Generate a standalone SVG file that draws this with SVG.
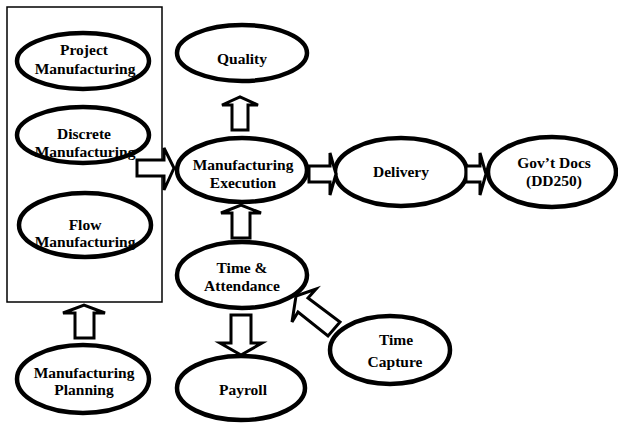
<svg xmlns="http://www.w3.org/2000/svg" width="618" height="423" viewBox="0 0 618 423">
<style>
.n ellipse{fill:#fff;stroke:#000;stroke-width:4.5}
.n text, text{font-family:"Liberation Serif","Times New Roman",serif;font-weight:bold;font-size:15.5px;fill:#000;text-anchor:middle}
.a polygon{fill:#fff;stroke:#000;stroke-width:3;stroke-linejoin:miter}
</style>
<rect width="618" height="423" fill="#fff"/>
<g id="group-box"><rect x="7" y="7" width="155" height="295" fill="none" stroke="#000" stroke-width="1.5"/></g>
<g id="project" class="n"><ellipse cx="83" cy="61" rx="66" ry="28"/><text x="84" y="55">Project</text><text x="85" y="74">Manufacturing</text></g>
<g id="discrete" class="n"><ellipse cx="83" cy="135" rx="66" ry="28"/><text x="84" y="139">Discrete</text><text x="85" y="157">Manufacturing</text></g>
<g id="flow" class="n"><ellipse cx="85" cy="225" rx="66" ry="32"/><text x="85" y="230">Flow</text><text x="85" y="247">Manufacturing</text></g>
<g id="quality" class="n"><ellipse cx="242" cy="53" rx="65" ry="28"/><text x="242" y="64">Quality</text></g>
<g id="execution" class="n"><ellipse cx="242" cy="170" rx="65" ry="32"/><text x="243" y="170">Manufacturing</text><text x="243" y="188">Execution</text></g>
<g id="delivery" class="n"><ellipse cx="401" cy="172" rx="66" ry="34"/><text x="401" y="177">Delivery</text></g>
<g id="govdocs" class="n"><ellipse cx="552" cy="172" rx="64" ry="35"/><text x="554" y="168">Gov’t Docs</text><text x="554" y="186">(DD250)</text></g>
<g id="attendance" class="n"><ellipse cx="242" cy="275" rx="65" ry="33"/><text x="242" y="273">Time &amp;</text><text x="242" y="291">Attendance</text></g>
<g id="capture" class="n"><ellipse cx="390" cy="350" rx="60" ry="34"/><text x="396" y="345">Time</text><text x="395" y="367">Capture</text></g>
<g id="planning" class="n"><ellipse cx="83" cy="379" rx="66" ry="34"/><text x="84" y="378">Manufacturing</text><text x="84" y="395">Planning</text></g>
<g id="payroll" class="n"><ellipse cx="241" cy="388" rx="64" ry="32"/><text x="243" y="395">Payroll</text></g>
<g id="connectors" class="a">
<polygon points="232,130 248,130 248,105 258,105 240,97 222,105 232,105"/>
<polygon points="232,238 250,238 250,213 261,213 241,205 221,213 232,213"/>
<polygon points="231,315 251,315 251,343 262,343 241,355 220,343 231,343"/>
<polygon points="75,338 94,338 94,313 105,313 84,305 63,313 75,313"/>
<polygon points="137,160 164,160 164,148 174,168 164,190 164,176 137,176"/>
<polygon points="309,166 330,166 330,153 336,174 330,195 330,182 309,182"/>
<polygon points="466,166 480,166 480,153 486,174 480,195 480,182 466,182"/>
<polygon points="296,296 316,289 308,298 340,322 328,336 298,312 292,322"/>
</g>
</svg>
